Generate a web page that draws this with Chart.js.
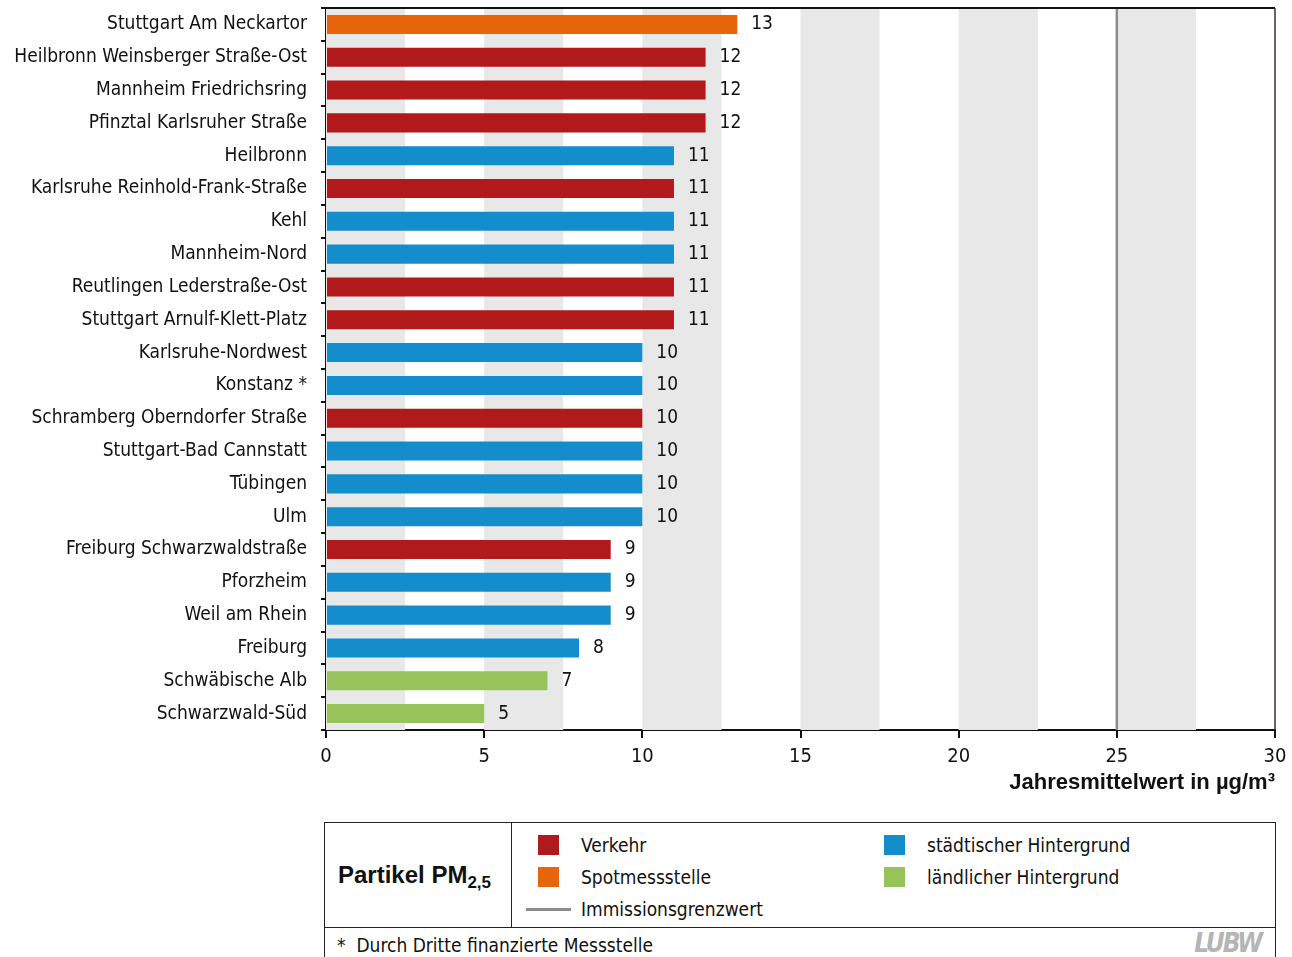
<!DOCTYPE html>
<html>
<head>
  <meta charset="utf-8">
  <title>Partikel PM2,5 Jahresmittelwerte</title>
  <script src="https://cdn.jsdelivr.net/npm/chart.js@4/dist/chart.umd.min.js"></script>
  <style>
  body {
    margin: 0;
    background: #fff;
    font-family: "DejaVu Sans Condensed", sans-serif;
    color: #111;
  }
  #wrap {
    position: relative;
    width: 1292px;
    height: 957px;
    overflow: hidden;
  }
  #pmChart {
    position: absolute;
    left: 0;
    top: 0;
  }
  #legendBox {
    position: absolute;
    left: 324px;
    top: 822px;
    width: 950px;
    height: 104px;
    border: 1.5px solid #222;
  }
  #legendTitle {
    position: absolute;
    left: 0;
    top: 0;
    width: 187px;
    height: 104px;
    border-right: 1.5px solid #222;
    font-family: "Liberation Sans", Arial, sans-serif;
    font-weight: bold;
    font-size: 24px;
    line-height: 104px;
    padding-left: 13px;
    box-sizing: border-box;
  }
  #legendTitle sub {
    font-size: 17px;
    vertical-align: -5px;
    line-height: 0;
  }
  .item {
    position: absolute;
    font-size: 19px;
    line-height: 24px;
  }
  .item .sw {
    position: absolute;
    left: -43px;
    top: 2px;
    width: 21px;
    height: 20px;
  }
  .item .ln {
    position: absolute;
    left: -55px;
    top: 11px;
    width: 45px;
    height: 3px;
    background: #8c8c8c;
  }
  #footBox {
    position: absolute;
    left: 324px;
    top: 927px;
    width: 950px;
    height: 40px;
    border: 1.5px solid #222;
    border-top: none;
  }
  #footnote {
    position: absolute;
    left: 12px;
    top: 7px;
    font-size: 19px;
  }
  #logo {
    position: absolute;
    right: 14px;
    top: 1px;
    font-size: 26px;
    font-weight: bold;
    font-style: italic;
    color: #b5b5b5;
    letter-spacing: -2px;
  }
  </style>
</head>
<body>
<div id="wrap">
  <canvas id="pmChart" width="1292" height="800"></canvas>

  <div id="legendBox">
    <div id="legendTitle">Partikel PM<sub>2,5</sub></div>
    <div class="item" style="left:256px; top:10px;"><span class="sw" style="background:#b2191a"></span>Verkehr</div>
    <div class="item" style="left:256px; top:42px;"><span class="sw" style="background:#e8650c"></span>Spotmessstelle</div>
    <div class="item" style="left:256px; top:74px;"><span class="ln"></span>Immissionsgrenzwert</div>
    <div class="item" style="left:602px; top:10px;"><span class="sw" style="background:#138dcb"></span>städtischer Hintergrund</div>
    <div class="item" style="left:602px; top:42px;"><span class="sw" style="background:#96c45a"></span>ländlicher Hintergrund</div>
  </div>
  <div id="footBox">
    <div id="footnote">*&nbsp; Durch Dritte finanzierte Messstelle</div>
    <div id="logo">LUBW</div>
  </div>
</div>

<script>
  // Messstellen und Jahresmittelwerte PM2,5 (µg/m³)
  const stations = [
    'Stuttgart Am Neckartor',
    'Heilbronn Weinsberger Straße-Ost',
    'Mannheim Friedrichsring',
    'Pfinztal Karlsruher Straße',
    'Heilbronn',
    'Karlsruhe Reinhold-Frank-Straße',
    'Kehl',
    'Mannheim-Nord',
    'Reutlingen Lederstraße-Ost',
    'Stuttgart Arnulf-Klett-Platz',
    'Karlsruhe-Nordwest',
    'Konstanz *',
    'Schramberg Oberndorfer Straße',
    'Stuttgart-Bad Cannstatt',
    'Tübingen',
    'Ulm',
    'Freiburg Schwarzwaldstraße',
    'Pforzheim',
    'Weil am Rhein',
    'Freiburg',
    'Schwäbische Alb',
    'Schwarzwald-Süd'
  ];
  const meanValues = [13, 12, 12, 12, 11, 11, 11, 11, 11, 11, 10, 10, 10, 10, 10, 10, 9, 9, 9, 8, 7, 5];
  // Stationstyp: V = Verkehr, S = Spotmessstelle, H = städtischer Hintergrund, L = ländlicher Hintergrund
  const stationTypes = ['S', 'V', 'V', 'V', 'H', 'V', 'H', 'H', 'V', 'V', 'H', 'H', 'V', 'H', 'H', 'H', 'V', 'H', 'H', 'H', 'L', 'L'];
  const xTicks = [0, 5, 10, 15, 20, 25, 30];
  const limitValue = 25;
  const bandStarts = [0, 5, 10, 15, 20, 25];

  const typeColors = { V: '#b2191a', S: '#e8650c', H: '#138dcb', L: '#96c45a' };
  const labelFont = { family: '"DejaVu Sans Condensed", sans-serif', size: 19 };

  // graue Streifen, Grenzwertlinie und Rahmen
  const backdrop = {
    id: 'backdrop',
    beforeDatasetsDraw(chart) {
      const { ctx, chartArea: a, scales: { x } } = chart;
      ctx.save();
      ctx.fillStyle = '#e8e8e8';
      bandStarts.forEach(v => {
        const x0 = x.getPixelForValue(v);
        const x1 = x.getPixelForValue(v + 2.5);
        ctx.fillRect(x0, a.top, x1 - x0, a.bottom - a.top);
      });
      const lx = x.getPixelForValue(limitValue);
      ctx.strokeStyle = '#8c8c8c';
      ctx.lineWidth = 2.5;
      ctx.beginPath();
      ctx.moveTo(lx, a.top);
      ctx.lineTo(lx, a.bottom);
      ctx.stroke();
      ctx.restore();
    },
    afterDraw(chart) {
      const { ctx, chartArea: a } = chart;
      ctx.save();
      ctx.strokeStyle = '#111';
      ctx.lineWidth = 2;
      ctx.beginPath();
      ctx.moveTo(a.left, a.top);
      ctx.lineTo(a.right, a.top);
      ctx.stroke();
      ctx.strokeStyle = '#333';
      ctx.lineWidth = 1.5;
      ctx.beginPath();
      ctx.moveTo(a.right, a.top);
      ctx.lineTo(a.right, a.bottom);
      ctx.stroke();
      ctx.restore();
    }
  };

  // Werte rechts neben den Balken
  const valueLabels = {
    id: 'valueLabels',
    afterDatasetsDraw(chart) {
      const { ctx } = chart;
      const meta = chart.getDatasetMeta(0);
      ctx.save();
      ctx.font = `${labelFont.size}px ${labelFont.family}`;
      ctx.fillStyle = '#111';
      ctx.textAlign = 'left';
      ctx.textBaseline = 'middle';
      meta.data.forEach((bar, i) => {
        ctx.fillText(String(meanValues[i]), bar.x + 14, bar.y);
      });
      ctx.restore();
    }
  };

  new Chart(document.getElementById('pmChart'), {
    type: 'bar',
    data: {
      labels: stations,
      datasets: [{
        data: meanValues,
        backgroundColor: stationTypes.map(t => typeColors[t]),
        borderWidth: 0,
        barPercentage: 0.58,
        categoryPercentage: 1
      }]
    },
    options: {
      indexAxis: 'y',
      responsive: false,
      animation: false,
      layout: { padding: { top: 8, right: 17, left: 0, bottom: 0 } },
      plugins: {
        legend: { display: false },
        tooltip: { enabled: false }
      },
      scales: {
        x: {
          min: 0,
          max: 30,
          afterBuildTicks(scale) {
            scale.ticks = xTicks.map(v => ({ value: v }));
          },
          afterFit(scale) {
            scale.height = 70;
            scale.paddingLeft = 0;
            scale.paddingRight = 0;
          },
          grid: { display: true, drawOnChartArea: false, drawTicks: true, tickLength: 8, color: '#111', lineWidth: 2 },
          border: { display: true, color: '#111', width: 2 },
          ticks: { color: '#111', font: { ...labelFont, size: 20 }, padding: 7, maxRotation: 0 },
          title: {
            display: true,
            text: 'Jahresmittelwert in µg/m³',
            align: 'end',
            color: '#111',
            font: { family: '"Liberation Sans", Arial, sans-serif', size: 22, weight: 'bold' },
            padding: { top: 0, bottom: 4 }
          }
        },
        y: {
          afterFit(scale) {
            scale.width = 326;
            scale.paddingTop = 0;
            scale.paddingBottom = 0;
          },
          grid: { display: true, offset: true, drawOnChartArea: false, drawTicks: true, tickLength: 5, color: '#111', lineWidth: 2 },
          border: { display: true, color: '#111', width: 2 },
          ticks: { color: '#111', font: labelFont, padding: 14, autoSkip: false, crossAlign: 'near' }
        }
      }
    },
    plugins: [backdrop, valueLabels]
  });
</script>
</body>
</html>
